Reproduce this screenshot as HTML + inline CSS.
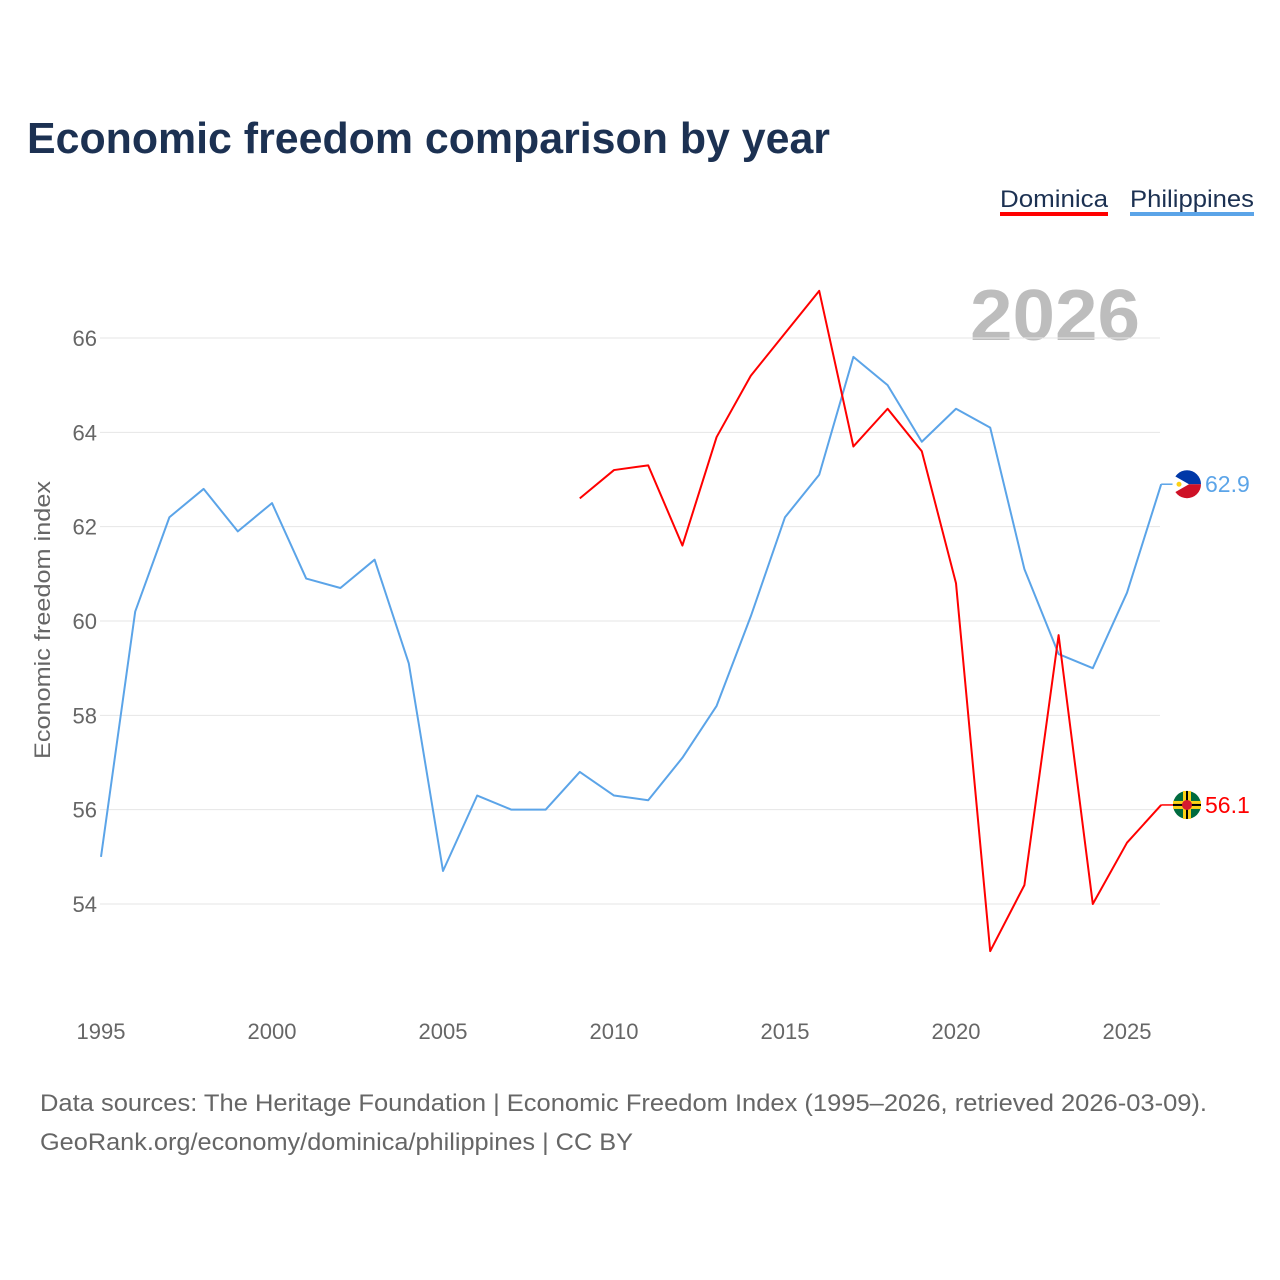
<!DOCTYPE html>
<html><head><meta charset="utf-8">
<style>
body{margin:0;background:#fff;font-family:"Liberation Sans",sans-serif;}
#wrap{position:relative;width:1280px;height:1280px;overflow:hidden;}
</style></head>
<body><div id="wrap">
<svg id="svg" width="1280" height="1280" style="font-family:'Liberation Sans',sans-serif">
<text x="27" y="153" font-size="44" font-weight="bold" fill="#1c3152" textLength="803" lengthAdjust="spacingAndGlyphs">Economic freedom comparison by year</text>
<g><text x="1000" y="207" font-size="24" fill="#1c3152" textLength="108" lengthAdjust="spacingAndGlyphs">Dominica</text><rect x="1000" y="212" width="108" height="4" fill="#ff0000"/></g>
<g><text x="1130" y="207" font-size="24" fill="#1c3152" textLength="124" lengthAdjust="spacingAndGlyphs">Philippines</text><rect x="1130" y="212" width="124" height="4" fill="#5ba4e8"/></g>
<text x="970" y="340" font-size="72" font-weight="bold" fill="#bdbdbd" textLength="170" lengthAdjust="spacingAndGlyphs">2026</text>
<text transform="translate(50,620) rotate(-90)" text-anchor="middle" font-size="22" fill="#666" textLength="278" lengthAdjust="spacingAndGlyphs">Economic freedom index</text>
<g id="grid"></g><g id="lines"></g><g id="labels"></g>
<text x="40" y="1111" font-size="24" fill="#666" textLength="1167" lengthAdjust="spacingAndGlyphs">Data sources: The Heritage Foundation | Economic Freedom Index (1995–2026, retrieved 2026-03-09).</text>
<text x="40" y="1150" font-size="24" fill="#666" textLength="593" lengthAdjust="spacingAndGlyphs">GeoRank.org/economy/dominica/philippines | CC BY</text>
</svg></div>
<script>
const phYears=[1995,1996,1997,1998,1999,2000,2001,2002,2003,2004,2005,2006,2007,2008,2009,2010,2011,2012,2013,2014,2015,2016,2017,2018,2019,2020,2021,2022,2023,2024,2025,2026];
const phValues=[55.0,60.2,62.2,62.8,61.9,62.5,60.9,60.7,61.3,59.1,54.7,56.3,56.0,56.0,56.8,56.3,56.2,57.1,58.2,60.1,62.2,63.1,65.6,65.0,63.8,64.5,64.1,61.1,59.3,59.0,60.6,62.9];
const dmYears=[2009,2010,2011,2012,2013,2014,2015,2016,2017,2018,2019,2020,2021,2022,2023,2024,2025,2026];
const dmValues=[62.6,63.2,63.3,61.6,63.9,65.2,66.1,67.0,63.7,64.5,63.6,60.8,53.0,54.4,59.7,54.0,55.3,56.1];
const yTicks=[54,56,58,60,62,64,66];
const xTicks=[1995,2000,2005,2010,2015,2020,2025];
const NS="http://www.w3.org/2000/svg";
const X=y=>101+(y-1995)*1026/30;
const Y=v=>338+(66-v)*566/12;
function mk(tag,attrs,parent){const e=document.createElementNS(NS,tag);for(const k in attrs)e.setAttribute(k,attrs[k]);parent.appendChild(e);return e;}
const grid=document.getElementById('grid'),lines=document.getElementById('lines'),labels=document.getElementById('labels');
yTicks.forEach(t=>{
 const l=mk('line',{x1:100,x2:1160,y1:Y(t),y2:Y(t),stroke:'#e6e6e6','stroke-width':1},grid);
 
 
 const tx=mk('text',{x:97,y:Y(t)+8,'text-anchor':'end','font-size':22,fill:'#666'},grid);
 tx.textContent=t;
 
 
});
xTicks.forEach(t=>{
 const tx=mk('text',{x:X(t),y:1039,'text-anchor':'middle','font-size':22,fill:'#666'},grid);
 tx.textContent=t;
 
 
});
function series(years,vals,color,name){
 const p=mk('polyline',{points:years.map((y,i)=>X(y)+','+Y(vals[i])).join(' '),fill:'none',stroke:color,'stroke-width':2,'stroke-linejoin':'round'},lines);
 
 
 const lv=vals[vals.length-1],ly=Y(lv),lx=X(years[years.length-1]);
 const c=mk('line',{x1:lx,x2:lx+12,y1:ly,y2:ly,stroke:color,'stroke-width':1.5},labels);
 
 
 const t=mk('text',{x:1205,y:ly+8,'font-size':23,fill:color},labels);
 t.textContent=lv.toFixed(1);
 
 
 return ly;
}
const py=series(phYears,phValues,'#5ba4e8','philippines');
const dy=series(dmYears,dmValues,'#ff0000','dominica');
let g=mk('g',{},labels);


mk('path',{d:`M1173 ${py} a14 14 0 0 1 28 0 z`,fill:'#0038a8'},g);
mk('path',{d:`M1173 ${py} a14 14 0 0 0 28 0 z`,fill:'#ce1126'},g);
mk('path',{d:`M1175 ${py-8} L1189 ${py} L1175 ${py+8} A14 14 0 0 1 1175 ${py-8} z`,fill:'#fff'},g);
mk('circle',{cx:1179,cy:py,r:2.5,fill:'#fcd116'},g);
g=mk('g',{},labels);


mk('circle',{cx:1187,cy:dy,r:14,fill:'#006b3f'},g);
mk('rect',{x:1173,y:dy-4,width:28,height:8,fill:'#fcd116'},g);
mk('rect',{x:1183,y:dy-14,width:8,height:28,fill:'#fcd116'},g);
mk('rect',{x:1173,y:dy-1,width:28,height:2,fill:'#000'},g);
mk('rect',{x:1186,y:dy-14,width:2,height:28,fill:'#000'},g);
mk('circle',{cx:1187,cy:dy,r:5,fill:'#d41c30'},g);
</script>
</body></html>
